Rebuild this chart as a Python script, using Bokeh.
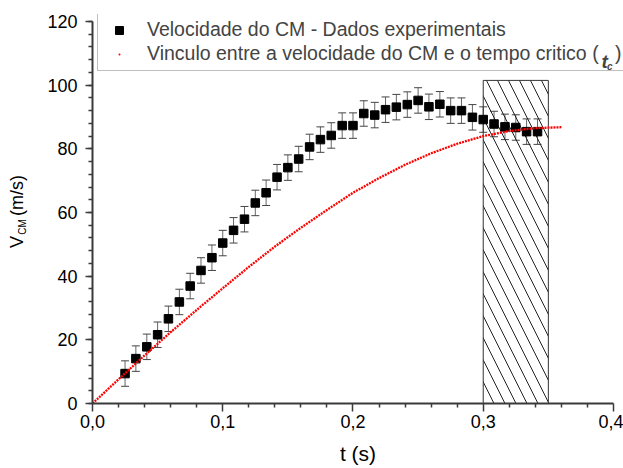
import numpy as np
import pandas as pd
from bokeh.plotting import figure
from bokeh.models import (ColumnDataSource, Whisker, TeeHead, Legend, LegendItem,
                          Label, FixedTicker, SingleIntervalTicker, Range1d, LinearAxis)
from bokeh.embed import file_html
from bokeh.resources import INLINE

# ---- data ----
t_exp = [0.025, 0.0333, 0.0417, 0.05, 0.0583, 0.0667, 0.075, 0.0833, 0.0917, 0.1,
         0.1083, 0.1167, 0.125, 0.1333, 0.1417, 0.15, 0.1583, 0.1667, 0.175, 0.1833,
         0.1917, 0.2, 0.2083, 0.2167, 0.225, 0.2333, 0.2417, 0.25, 0.2583, 0.2667,
         0.275, 0.2833, 0.2917, 0.3, 0.3083, 0.3167, 0.325, 0.3333, 0.3417]
v_exp = [9.4, 14.1, 17.8, 21.6, 26.6, 31.9, 36.9, 41.8, 45.8, 50.4,
         54.4, 57.9, 63.0, 66.2, 71.1, 74.1, 76.8, 80.6, 82.9, 84.2,
         87.3, 87.3, 91.1, 90.6, 92.3, 93.1, 93.9, 95.2, 93.2, 94.0,
         92.0, 92.0, 89.9, 89.2, 87.8, 86.9, 86.7, 85.4, 85.4]
v_err = [4.0] * len(t_exp)

t_model = [0.0, 0.02, 0.04, 0.06, 0.08, 0.10, 0.12, 0.14, 0.16, 0.18,
           0.20, 0.22, 0.24, 0.26, 0.28, 0.30, 0.32, 0.34, 0.36]
v_model = [0.0, 7.6, 15.1, 22.4, 29.4, 36.2, 42.9, 49.3, 55.2, 60.8,
           66.2, 70.8, 75.0, 78.6, 81.6, 84.0, 85.6, 86.5, 86.8]

region_left = [0.30]
region_right = [0.35]
region_bottom = [0.0]
region_top = [101.5]

x_ticks = [0.0, 0.1, 0.2, 0.3, 0.4]
x_tick_labels = ["0,0", "0,1", "0,2", "0,3", "0,4"]
x_minor = [0.02, 0.04, 0.06, 0.08, 0.12, 0.14, 0.16, 0.18, 0.22, 0.24, 0.26, 0.28,
           0.32, 0.34, 0.36, 0.38]

NB = "\u00a0"
label1 = "Velocidade do CM - Dados experimentais"
label2 = "Vinculo entre a velocidade do CM e o tempo critico (" + NB * 3 + ")"
ylabel_main = "V" + NB * 4 + "(m/s)" + NB
ylabel_sub = "CM" + NB * 13

FONT = "Liberation Sans"

df = pd.DataFrame({"t": t_exp, "v": v_exp, "e": v_err})
df["up"] = df["v"] + df["e"]
df["lo"] = df["v"] - df["e"]
src = ColumnDataSource(df)
msrc = ColumnDataSource(dict(t=t_model, v=v_model))

# frame slightly larger than the axes (axes limited with bounds) so the legend
# can sit above the 120 tick and run to the right edge like the original
p = figure(width=623, height=468, output_backend="svg", toolbar_location=None,
           x_range=Range1d(0, 0.4077), y_range=Range1d(0, 122.2),
           min_border_left=92, min_border_right=0, min_border_top=14,
           min_border_bottom=65)
p.outline_line_color = None
p.xgrid.visible = False
p.ygrid.visible = False
p.background_fill_color = "white"
p.border_fill_color = "white"

# hatched region
p.quad(left=region_left, right=region_right, bottom=region_bottom, top=region_top,
       fill_color=None, line_color="#333333", line_width=1,
       hatch_pattern="\\", hatch_scale=22, hatch_color="#222222", hatch_weight=1)

# error bars
wh = Whisker(base="t", upper="up", lower="lo", source=src,
             line_color="#666666", line_width=1,
             upper_head=TeeHead(size=8, line_color="#444444", line_width=1),
             lower_head=TeeHead(size=8, line_color="#444444", line_width=1))
p.add_layout(wh)

sq = p.scatter("t", "v", source=src, marker="square", size=8.5,
               fill_color="black", line_color="black")

ln = p.line("t", "v", source=msrc, line_color="red", line_width=2.3, line_dash="2 1")
dot = p.scatter("t", "v", source=msrc, marker="dot", size=8, line_color="red",
                fill_color="red", visible=False)

# axes
for ax in (p.xaxis[0], p.yaxis[0]):
    ax.axis_line_color = "#3a3a3a"
    ax.axis_line_width = 2
    ax.major_tick_line_color = "#3a3a3a"
    ax.minor_tick_line_color = "#3a3a3a"
    ax.major_tick_line_width = 1.5
    ax.minor_tick_line_width = 1.5
    ax.major_tick_in = 0
    ax.minor_tick_in = 0
    ax.major_label_text_font = FONT
    ax.major_label_text_font_size = "18px"
    ax.major_label_text_color = "black"
    ax.axis_label_text_font = FONT
    ax.axis_label_text_font_style = "normal"
    ax.axis_label_text_color = "black"

p.xaxis.ticker = FixedTicker(ticks=x_ticks, minor_ticks=x_minor)
p.xaxis.major_label_overrides = {k: v for k, v in zip(x_ticks, x_tick_labels)}
p.xaxis.bounds = (0, 0.4)
p.xaxis.major_tick_out = 8
p.xaxis.minor_tick_out = 4
p.xaxis.major_label_standoff = 3
p.xaxis.axis_label = "t (s)"
p.xaxis.axis_label_text_font_size = "21px"
p.xaxis.axis_label_standoff = 11

p.yaxis.ticker = SingleIntervalTicker(interval=20, num_minor_ticks=5)
p.yaxis.bounds = (0, 120)
p.yaxis.major_tick_out = 7
p.yaxis.minor_tick_out = 4
p.yaxis.major_label_standoff = 8
# subscript "CM" carried by the main y axis label
p.yaxis.axis_label = ylabel_sub
p.yaxis.axis_label_text_font_size = "10px"
p.yaxis.axis_label_standoff = 16

# outer axis carrying "V   (m/s)"
outer = LinearAxis(ticker=FixedTicker(ticks=[]), axis_line_color=None,
                   major_tick_out=0, minor_tick_out=0, major_tick_in=0,
                   minor_tick_in=0, major_label_standoff=0,
                   axis_label=ylabel_main, axis_label_text_font=FONT,
                   axis_label_text_font_size="18px",
                   axis_label_text_font_style="normal",
                   axis_label_text_color="black", axis_label_standoff=-12)
p.add_layout(outer, "left")

legend = Legend(items=[LegendItem(label=label1, renderers=[sq]),
                       LegendItem(label=label2, renderers=[dot])],
                location=(5, 332), padding=5, spacing=1, label_height=23,
                glyph_height=20, glyph_width=32, label_standoff=12,
                label_width=480,
                label_text_font=FONT, label_text_font_size="19.5px",
                border_line_color="#808080", border_line_width=1,
                background_fill_alpha=0.0, margin=0)
p.add_layout(legend)

# t_c inside the second legend label
p.add_layout(Label(x=0.3908, y=107.4, text="t", text_font=FONT,
                   text_font_size="19px", text_font_style="bold italic",
                   text_baseline="alphabetic"))
p.add_layout(Label(x=0.3951, y=106.0, text="c", text_font=FONT,
                   text_font_size="10px", text_font_style="bold italic",
                   text_baseline="alphabetic"))

open("out.html", "w").write(file_html(p, INLINE))
